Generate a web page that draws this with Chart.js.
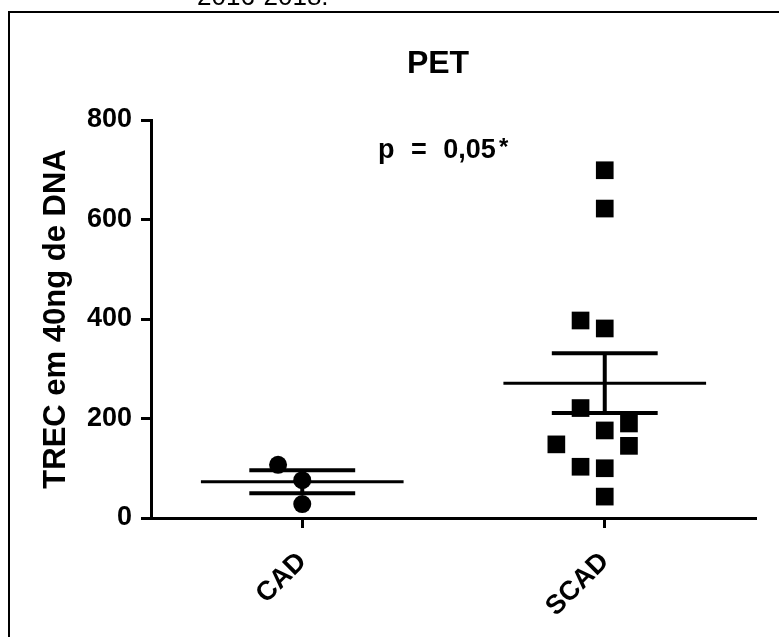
<!DOCTYPE html>
<html lang="pt">
<head>
    <meta charset="UTF-8">
    <title>PET - TREC</title>
    <style>
        body {
            margin: 0;
            background: #fff;
        }
        .chart-box {
            width: 779px;
            height: 637px;
        }
    </style>
    <script src="https://cdn.jsdelivr.net/npm/chart.js@4.4.0/dist/chart.umd.min.js"></script>
</head>
<body>
    <div class="chart-box">
        <canvas id="petChart"></canvas>
    </div>

    <script>
        // values
        const groupLabels = ['CAD', 'SCAD'];
        const groupPositions = [1, 2];
        const cadValues = [107, 76, 28];
        const cadJitter = [-0.08, 0, 0];
        const scadValues = [699, 622, 397, 381, 221, 190, 176, 148, 145, 103, 100, 43];
        const scadJitter = [0, 0, -0.08, 0, -0.08, 0.08, 0, -0.16, 0.08, -0.08, 0, 0];
        const groupMeans = [73, 271];
        const groupSem = [23, 60];
        const yTicks = [0, 200, 400, 600, 800];

        const FONT = "'Liberation Sans', Arial, sans-serif";
        const meanHalf = 0.335;
        const capHalf = 0.175;

        function lineSet(points, width) {
            return {
                data: points,
                showLine: true,
                borderColor: '#000',
                borderWidth: width,
                pointRadius: 0,
                fill: false
            };
        }

        // mean line + SEM bars for each group
        const summarySets = [];
        groupPositions.forEach((x, i) => {
            const m = groupMeans[i];
            const lo = m - groupSem[i];
            const hi = m + groupSem[i];
            summarySets.push(lineSet([{x: x - meanHalf, y: m}, {x: x + meanHalf, y: m}], 3));
            summarySets.push(lineSet([{x: x, y: lo}, {x: x, y: hi}], 4));
            summarySets.push(lineSet([{x: x - capHalf, y: hi}, {x: x + capHalf, y: hi}], 4));
            summarySets.push(lineSet([{x: x - capHalf, y: lo}, {x: x + capHalf, y: lo}], 4));
        });

        const cadPoints = cadValues.map((v, i) => ({x: groupPositions[0] + cadJitter[i], y: v}));
        const scadPoints = scadValues.map((v, i) => ({x: groupPositions[1] + scadJitter[i], y: v}));

        // frame and free text
        const textPlugin = {
            id: 'figureText',
            afterDraw(chart) {
                const ctx = chart.ctx;
                ctx.save();
                ctx.strokeStyle = '#000';
                ctx.lineWidth = 2;
                ctx.beginPath();
                ctx.moveTo(9, 637);
                ctx.lineTo(9, 12);
                ctx.lineTo(779, 12);
                ctx.stroke();

                ctx.fillStyle = '#000';
                ctx.textBaseline = 'alphabetic';
                ctx.font = '26px ' + FONT;
                ctx.textAlign = 'left';
                ctx.fillText('2016-2018.', 197, 5);

                ctx.font = 'bold 32px ' + FONT;
                ctx.textAlign = 'center';
                ctx.fillText('PET', 438, 73);

                ctx.font = 'bold 27px ' + FONT;
                ctx.textAlign = 'left';
                ctx.wordSpacing = '9px';
                ctx.fillText('p = 0,05', 378, 158);
                ctx.wordSpacing = '0px';
                ctx.font = 'bold 24px ' + FONT;
                ctx.fillText('*', 499, 155);
                ctx.restore();
            }
        };

        new Chart(document.getElementById('petChart'), {
            type: 'scatter',
            data: {
                datasets: [
                    ...summarySets,
                    {
                        label: 'CAD',
                        data: cadPoints,
                        pointStyle: 'circle',
                        pointRadius: 9,
                        pointBackgroundColor: '#000',
                        pointBorderWidth: 0
                    },
                    {
                        label: 'SCAD',
                        data: scadPoints,
                        pointStyle: 'rect',
                        pointRadius: 12.5,
                        pointBackgroundColor: '#000',
                        pointBorderWidth: 0
                    }
                ]
            },
            options: {
                responsive: true,
                maintainAspectRatio: false,
                animation: false,
                layout: {
                    padding: {top: 120, right: 23, bottom: 0, left: 0}
                },
                plugins: {
                    legend: {display: false},
                    tooltip: {enabled: false}
                },
                scales: {
                    x: {
                        type: 'linear',
                        min: 0.5,
                        max: 2.5,
                        afterFit: (scale) => { scale.height = 119; },
                        afterBuildTicks: (scale) => {
                            scale.ticks = groupPositions.map(v => ({value: v}));
                        },
                        ticks: {
                            callback: (value) => groupLabels[groupPositions.indexOf(value)] || '',
                            minRotation: 45,
                            maxRotation: 45,
                            padding: 18,
                            color: '#000',
                            font: {family: FONT, size: 27, weight: 'bold'}
                        },
                        grid: {
                            drawOnChartArea: false,
                            tickLength: 10,
                            tickWidth: 3,
                            tickColor: '#000'
                        },
                        border: {color: '#000', width: 3}
                    },
                    y: {
                        min: 0,
                        max: 800,
                        afterFit: (scale) => { scale.width = 151; },
                        afterBuildTicks: (scale) => {
                            scale.ticks = yTicks.map(v => ({value: v}));
                        },
                        ticks: {
                            padding: 9,
                            color: '#000',
                            font: {family: FONT, size: 27, weight: 'bold'}
                        },
                        grid: {
                            drawOnChartArea: false,
                            tickLength: 10,
                            tickWidth: 3,
                            tickColor: '#000'
                        },
                        border: {color: '#000', width: 3},
                        title: {
                            display: true,
                            text: 'TREC em 40ng de DNA',
                            color: '#000',
                            padding: {top: 41, bottom: 0},
                            font: {family: FONT, size: 31, weight: 'bold', lineHeight: 1}
                        }
                    }
                }
            },
            plugins: [textPlugin]
        });
    </script>
</body>
</html>
